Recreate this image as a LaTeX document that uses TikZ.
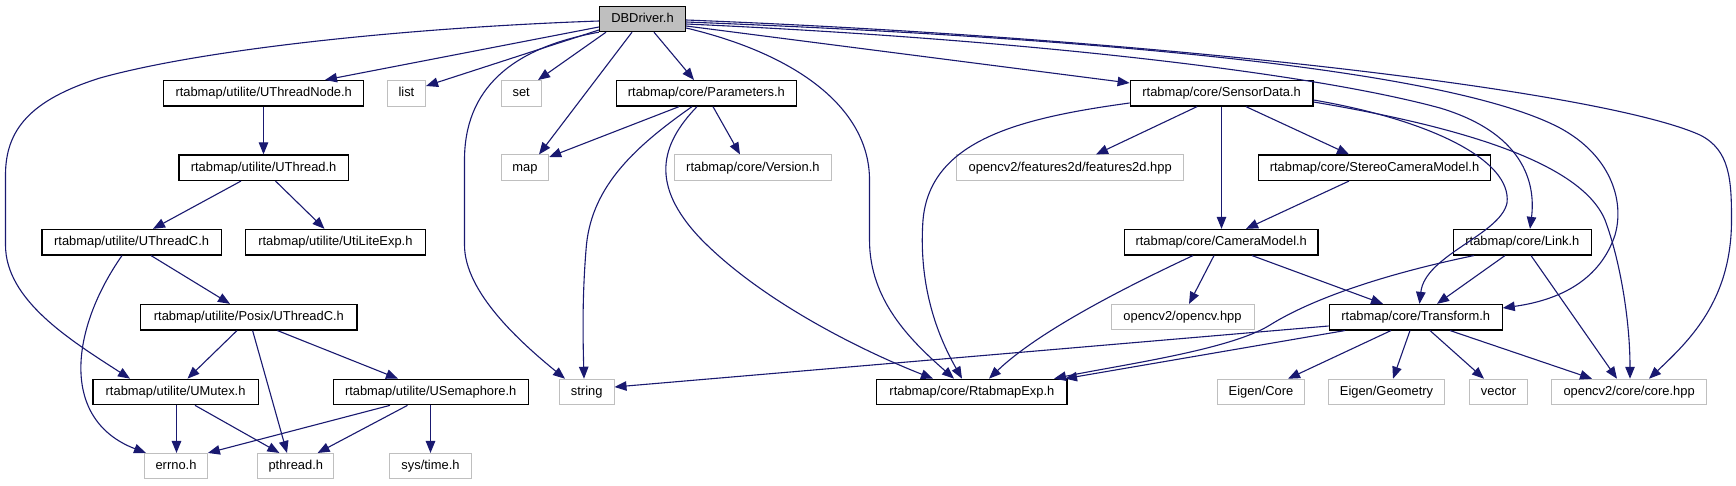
\documentclass[tikz,border=0pt]{standalone}
\usepackage{fontspec}
\setmainfont{Liberation Sans}
\usetikzlibrary{arrows.meta}
\definecolor{edgeblue}{HTML}{191970}
\definecolor{extgray}{HTML}{BFBFBF}
\begin{document}
\begin{tikzpicture}[x=1pt,y=-1pt,
  nb/.style={rectangle, minimum height=25.5pt, inner sep=0pt, text height=9.2pt, text depth=2.2pt, font=\fontsize{12.9}{15}\selectfont, fill=white},
  inc/.style={nb, draw=black, line width=1.2pt},
  ext/.style={nb, draw=extgray, line width=1pt},
  root/.style={nb, draw=black, fill=extgray, line width=1.2pt},
  e/.style={draw=edgeblue, line width=1.1pt, -{Triangle[length=12pt,width=9.5pt]}}
]
\useasboundingbox (0,0) rectangle (1736,485);
\fill[white] (0,0) rectangle (1736,485);

% row 0
\node[root, minimum width=86.1pt] (DB) at (642.5,18.85) {DBDriver.h};
% row 1
\node[inc, minimum width=199.7pt] (UTN) at (263.7,93.3) {rtabmap/utilite/UThreadNode.h};
\node[ext, minimum width=38.3pt] (list) at (406.4,93.3) {list};
\node[ext, minimum width=39.8pt] (set) at (521.2,93.3) {set};
\node[inc, minimum width=180.2pt] (Param) at (706.4,93.3) {rtabmap/core/Parameters.h};
\node[inc, minimum width=182.8pt] (Sensor) at (1221.6,93.3) {rtabmap/core/SensorData.h};
% row 2
\node[ext, minimum width=47.4pt] (map) at (525,167.7) {map};
\node[inc, minimum width=169.2pt] (UT) at (263.6,167.7) {rtabmap/utilite/UThread.h};
\node[ext, minimum width=157.7pt] (Version) at (752.9,167.7) {rtabmap/core/Version.h};
\node[ext, minimum width=227pt] (feat) at (1070.2,167.7) {opencv2/features2d/features2d.hpp};
\node[inc, minimum width=231.8pt] (Stereo) at (1374.5,167.7) {rtabmap/core/StereoCameraModel.h};
% row 3
\node[inc, minimum width=179.1pt] (UTC) at (131.6,242.2) {rtabmap/utilite/UThreadC.h};
\node[inc, minimum width=180.2pt] (ULE) at (335.4,242.2) {rtabmap/utilite/UtiLiteExp.h};
\node[inc, minimum width=193.5pt] (Cam) at (1221.2,242.2) {rtabmap/core/CameraModel.h};
\node[inc, minimum width=137.6pt] (Link) at (1522.4,242.2) {rtabmap/core/Link.h};
% row 4
\node[inc, minimum width=216.2pt] (Posix) at (248.9,317.2) {rtabmap/utilite/Posix/UThreadC.h};
\node[ext, minimum width=143pt] (opencv) at (1182.5,317.2) {opencv2/opencv.hpp};
\node[inc, minimum width=172.9pt] (Trans) at (1415.7,317.2) {rtabmap/core/Transform.h};
% row 5
\node[inc, minimum width=165.3pt] (UMutex) at (175.6,392) {rtabmap/utilite/UMutex.h};
\node[inc, minimum width=194.8pt] (USem) at (430.7,392) {rtabmap/utilite/USemaphore.h};
\node[ext, minimum width=54.6pt] (string) at (586.7,392) {string};
\node[inc, minimum width=190.2pt] (Rtab) at (971.9,392) {rtabmap/core/RtabmapExp.h};
\node[ext, minimum width=87.1pt] (ECore) at (1261,392) {Eigen/Core};
\node[ext, minimum width=115.9pt] (EGeom) at (1386.5,392) {Eigen/Geometry};
\node[ext, minimum width=58.5pt] (vector) at (1498.5,392) {vector};
\node[ext, minimum width=155.1pt] (core) at (1629.1,392) {opencv2/core/core.hpp};
% row 6
\node[ext, minimum width=62.8pt] (errno) at (176,466.2) {errno.h};
\node[ext, minimum width=75.8pt] (pthread) at (295.8,466.2) {pthread.h};
\node[ext, minimum width=82.6pt] (systime) at (430.5,466.2) {sys/time.h};

% DBDriver.h
\draw[e] (DB.west |- 0,27) -- (325,0 |- UTN.north);
\draw[e] (DB.west |- 0,30) -- (list.east |- 0,86);
\draw[e] (606,0 |- DB.south) -- (538,0 |- set.north);
\draw[e] (632,0 |- DB.south) -- (539,0 |- map.north);
\draw[e] (DB.south west) .. controls (510,48) and (464.5,90) .. (464.5,160) -- (464.5,245) .. controls (464.5,292) and (520,342) .. (565,0 |- string.north);
\draw[e] (654,0 |- DB.south) -- (694,0 |- Param.north);
\draw[e] (DB.east |- 0,28) .. controls (800,55) and (869.5,110) .. (869.5,180) -- (869.5,240) .. controls (869.5,300) and (910,340) .. (954,0 |- Rtab.north);
\draw[e] (DB.east |- 0,26) -- (Sensor.west |- 0,83);
\draw[e] (DB.east |- 0,24) .. controls (1000,38) and (1300,70) .. (1440,108) .. controls (1530,135) and (1535,190) .. (1530,0 |- Link.north);
\draw[e] (DB.east |- 0,22) .. controls (1100,38) and (1450,70) .. (1560,128) .. controls (1610,155) and (1625,200) .. (1615,235) .. controls (1600,280) and (1560,300) .. (Trans.east |- 0,308);
\draw[e] (DB.east |- 0,20) .. controls (1150,38) and (1600,90) .. (1700,135) .. controls (1730,150) and (1731.5,180) .. (1731.5,220) .. controls (1731.5,300) and (1690,340) .. (1649,0 |- core.north);
\draw[e] (DB.west |- 0,21) .. controls (400,28) and (200,50) .. (100,78) .. controls (30,100) and (5.5,130) .. (5.5,175) -- (5.5,245) .. controls (5.5,300) and (70,340) .. (130,0 |- UMutex.north);

% Parameters.h
\draw[e] (679,0 |- Param.south) -- (map.east |- 0,157);
\draw[e] (692,0 |- Param.south) .. controls (630,150) and (590,190) .. (586,250) .. controls (582,300) and (583,340) .. (584,0 |- string.north);
\draw[e] (697,0 |- Param.south) .. controls (660,145) and (650,185) .. (700,238) .. controls (760,300) and (860,350) .. (933,0 |- Rtab.north);
\draw[e] (713,0 |- Param.south) -- (740,0 |- Version.north);

% SensorData.h
\draw[e] (Sensor.west |- 0,103) .. controls (1020,118) and (930,140) .. (923,220) .. controls (918,290) and (940,340) .. (962,0 |- Rtab.north);
\draw[e] (1197,0 |- Sensor.south) -- (1096,0 |- feat.north);
\draw[e] (1221.5,0 |- Sensor.south) -- (1221.5,0 |- Cam.north);
\draw[e] (1246,0 |- Sensor.south) -- (1349,0 |- Stereo.north);
\draw[e] (1349,0 |- Stereo.south) -- (1246,0 |- Cam.north);
\draw[e] (Sensor.east |- 0,100) .. controls (1430,120) and (1512,160) .. (1507,203) .. controls (1500,235) and (1425,255) .. (1419.5,0 |- Trans.north);
\draw[e] (Sensor.east |- 0,102) .. controls (1450,125) and (1580,160) .. (1605,220) .. controls (1620,260) and (1630,320) .. (1630,0 |- core.north);

% CameraModel.h
\draw[e] (1193,0 |- Cam.south) .. controls (1130,285) and (1040,330) .. (989,0 |- Rtab.north);
\draw[e] (1214,0 |- Cam.south) -- (1189,0 |- opencv.north);
\draw[e] (1252,0 |- Cam.south) -- (1383,0 |- Trans.north);

% Link.h
\draw[e] (1474,0 |- Link.south) .. controls (1380,275) and (1310,300) .. (1270,325) .. controls (1230,350) and (1120,365) .. (1054,0 |- Rtab.north);
\draw[e] (1505,0 |- Link.south) -- (1437,0 |- Trans.north);
\draw[e] (1531,0 |- Link.south) -- (1617,0 |- core.north);

% Transform.h
\draw[e] (Trans.west |- 0,326) -- (string.east |- 0,387);
\draw[e] (1345,0 |- Trans.south) -- (1065,0 |- Rtab.north);
\draw[e] (1391,0 |- Trans.south) -- (1288,0 |- ECore.north);
\draw[e] (1410,0 |- Trans.south) -- (1393,0 |- EGeom.north);
\draw[e] (1430,0 |- Trans.south) -- (1484,0 |- vector.north);
\draw[e] (1450,0 |- Trans.south) -- (1592,0 |- core.north);

% utilite
\draw[e] (263.5,0 |- UTN.south) -- (263.5,0 |- UT.north);
\draw[e] (241,0 |- UT.south) -- (153,0 |- UTC.north);
\draw[e] (275.5,0 |- UT.south) -- (324.5,0 |- ULE.north);
\draw[e] (122,0 |- UTC.south) .. controls (70,330) and (60,420) .. (146,0 |- errno.north);
\draw[e] (151,0 |- UTC.south) -- (230,0 |- Posix.north);
\draw[e] (237,0 |- Posix.south) -- (187.5,0 |- UMutex.north);
\draw[e] (252.6,0 |- Posix.south) -- (287,0 |- pthread.north);
\draw[e] (277.4,0 |- Posix.south) -- (398,0 |- USem.north);
\draw[e] (176.5,0 |- UMutex.south) -- (176.5,0 |- errno.north);
\draw[e] (195,0 |- UMutex.south) -- (279.4,0 |- pthread.north);
\draw[e] (390,0 |- USem.south) -- (errno.north east);
\draw[e] (407.5,0 |- USem.south) -- (317.6,0 |- pthread.north);
\draw[e] (430.5,0 |- USem.south) -- (430.5,0 |- systime.north);
\end{tikzpicture}
\end{document}
